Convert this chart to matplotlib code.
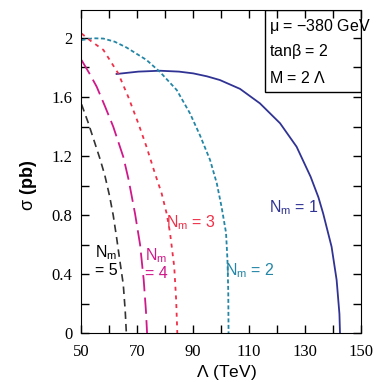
import matplotlib
matplotlib.use("Agg")
import matplotlib.pyplot as plt
from matplotlib.patches import Rectangle

# curves: Lambda (TeV) -> sigma (pb)
lam1 = [62.7, 70.5, 78.2, 85, 90.1, 95, 99.6, 103.2, 106.8, 113.9, 121.1, 127.0,
        132.0, 134.8, 136.5, 139.5, 141.3, 142.3, 142.5]
sig1 = [1.756, 1.772, 1.778, 1.772, 1.76, 1.74, 1.715, 1.685, 1.655, 1.557, 1.422, 1.263,
        1.06, 0.92, 0.81, 0.585, 0.36, 0.13, 0]

lam2 = [50.2, 54.4, 58, 62, 66.3, 73.4, 78.2, 84.2, 88.9, 92.5, 96.1, 98.5,
        100.2, 101.8, 102.3, 102.6, 102.7]
sig2 = [1.986, 1.998, 1.996, 1.975, 1.935, 1.851, 1.77, 1.647, 1.49, 1.34, 1.173, 1.015,
        0.856, 0.68, 0.50, 0.28, 0]

lam3 = [50.2, 53.5, 58.0, 63.3, 66.9, 70.5, 73.4, 76.4, 78.8, 80.6, 81.8, 83.3, 84.0, 84.4]
sig3 = [2.03, 1.98, 1.919, 1.76, 1.60, 1.42, 1.263, 1.083, 0.947, 0.81, 0.68, 0.45, 0.22, 0]

lam4 = [50.2, 53, 55.6, 58.5, 61.5, 65.1, 67.0, 69.3, 71.1, 72.4, 73.2, 73.6]
sig4 = [1.85, 1.76, 1.67, 1.54, 1.40, 1.195, 1.04, 0.81, 0.60, 0.36, 0.15, 0]

lam5 = [50.2, 52.5, 54.4, 56.8, 58.5, 60.2, 61.5, 62.7, 63.8, 65.1, 65.8, 66.2]
sig5 = [1.55, 1.43, 1.32, 1.18, 1.07, 0.93, 0.80, 0.65, 0.50, 0.33, 0.15, 0]

box_lines = [r"$\mu$ = $-$380 GeV", r"tan$\beta$ = 2", r"M = 2 $\Lambda$"]

serif = ["Liberation Serif", "DejaVu Serif"]
sans = ["Liberation Sans Narrow", "Liberation Sans", "DejaVu Sans"]
plt.rcParams["mathtext.fontset"] = "custom"
plt.rcParams["mathtext.rm"] = "Liberation Sans"
plt.rcParams["mathtext.it"] = "Liberation Sans"

fig = plt.figure(figsize=(3.82, 3.82), dpi=100)
ax = fig.add_axes([0.212, 0.128, 0.733, 0.846])

ax.plot(lam1, sig1, color="#303394", lw=1.3, solid_joinstyle="round")
ax.plot(lam2, sig2, color="#2486a6", lw=1.3, dashes=(2.2, 1.4))
ax.plot(lam3, sig3, color="#f03048", lw=1.3, dashes=(2.2, 2.6))
ax.plot(lam4, sig4, color="#d0188a", lw=1.3, dashes=(9, 3.5))
ax.plot(lam5, sig5, color="#333333", lw=1.2, dashes=(4.5, 3))

ax.set_xlim(50, 150)
ax.set_ylim(0, 2.19)
ax.set_xticks(range(50, 151, 20))
ax.set_xticks(range(50, 151, 10), minor=True)
ax.set_yticks([0, 0.4, 0.8, 1.2, 1.6, 2.0])
ax.set_yticklabels(["0", "0.4", "0.8", "1.2", "1.6", "2"])
ax.set_yticks([i * 0.2 for i in range(11)], minor=True)
ax.tick_params(which="both", direction="in", top=True, right=True,
               length=6, width=1, labelsize=12)
ax.tick_params(axis="x", pad=8)
ax.tick_params(axis="y", pad=6)
for lab in ax.get_xticklabels() + ax.get_yticklabels():
    lab.set_family(serif)

ax.set_xlabel(r"$\Lambda$ (TeV)", family=sans, fontsize=12.5)
ax.xaxis.set_label_coords(0.518, -0.094)
ax.set_ylabel(r"$\sigma$ (pb)", family=sans, fontsize=13, fontweight="bold")
ax.yaxis.set_label_coords(-0.15, 0.458)

lab_kw = dict(family=sans, fontsize=11.5, ha="center", va="center")
ax.text(126, 0.85, r"N$_\mathrm{m}$ = 1", color="#303394", **lab_kw)
ax.text(110.4, 0.42, r"N$_\mathrm{m}$ = 2", color="#2486a6", **lab_kw)
ax.text(89.3, 0.75, r"N$_\mathrm{m}$ = 3", color="#f03048", **lab_kw)
ax.text(76.8, 0.47, "N$_\\mathrm{m}$\n= 4", color="#d0188a", linespacing=1.1, **lab_kw)
ax.text(58.9, 0.49, "N$_\\mathrm{m}$\n= 5", color="black", linespacing=1.1, **lab_kw)

ax.add_patch(Rectangle((0.657, 0.746), 0.343, 0.254, transform=ax.transAxes,
                       fill=False, edgecolor="black", lw=1))
for i, s in enumerate(box_lines):
    ax.text(0.67, 0.95 - i * 0.08, s, transform=ax.transAxes, family=sans,
            fontsize=11.5, ha="left", va="center")

fig.savefig("out.png", dpi=100)
